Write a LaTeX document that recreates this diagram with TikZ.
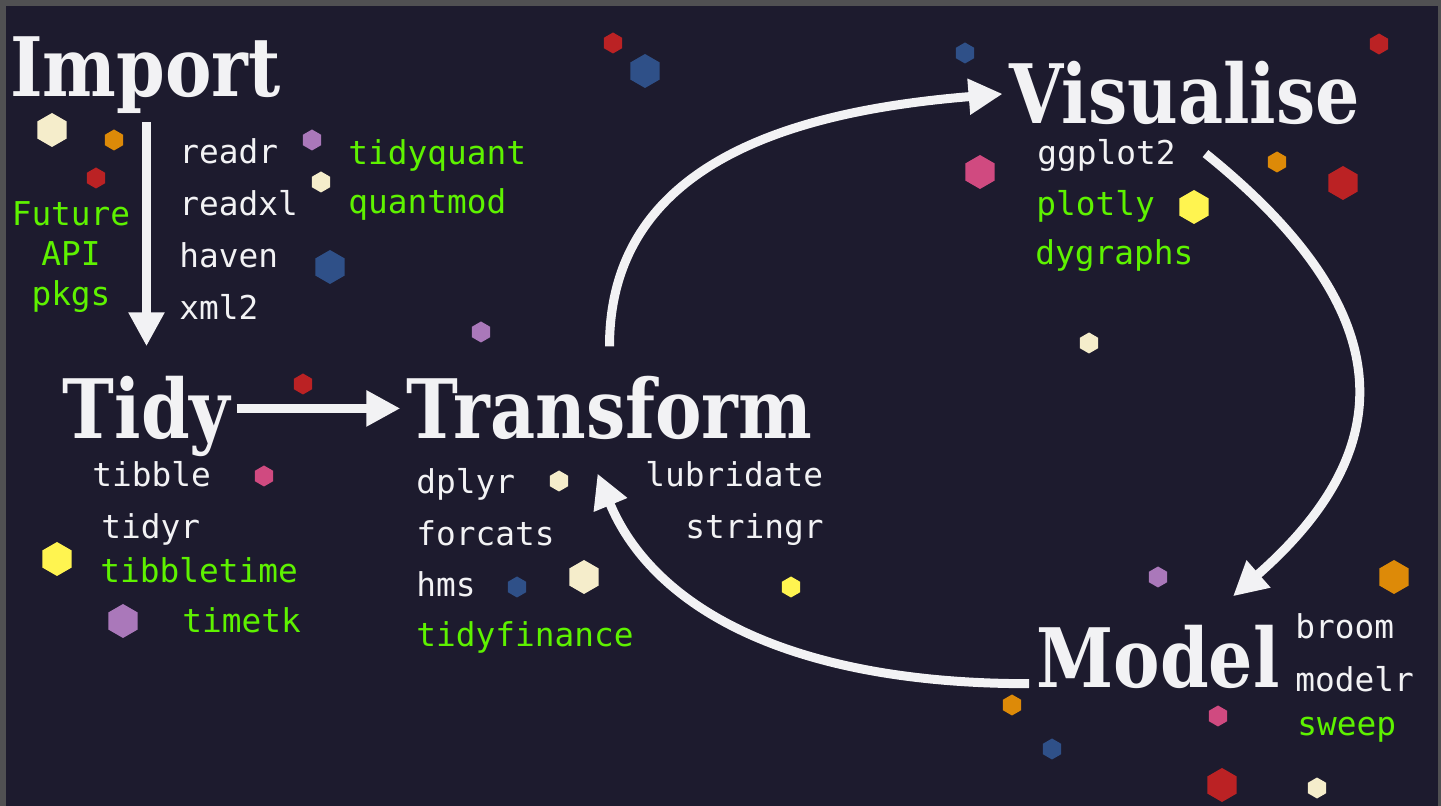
\documentclass[tikz,border=0pt]{standalone}
\usepackage{fontspec}
\usetikzlibrary{arrows.meta,calc,positioning}
\newfontfamily\stagefamily[FakeStretch=0.85]{DejaVu Serif}
\newfontfamily\pkgfamily{DejaVu Sans Mono}
\definecolor{bgdark}{RGB}{29,27,46}
\definecolor{framegray}{RGB}{80,80,82}
\definecolor{txtwhite}{RGB}{242,242,244}
\definecolor{pkggreen}{RGB}{94,242,0}
\definecolor{hcream}{RGB}{245,237,203}
\definecolor{horange}{RGB}{221,138,8}
\definecolor{hred}{RGB}{187,34,36}
\definecolor{hpurple}{RGB}{170,120,186}
\definecolor{hblue}{RGB}{47,80,136}
\definecolor{hpink}{RGB}{208,74,128}
\definecolor{hyellow}{RGB}{255,244,80}
% hexagon: x, y, radius, colour
\newcommand{\hexa}[4]{\fill[#4] (#1,#2) +(90:#3) -- +(150:#3) -- +(210:#3) -- +(270:#3) -- +(330:#3) -- +(30:#3) -- cycle;}

\begin{document}
\begin{tikzpicture}[
        x=0.5pt, y=-0.5pt, % one unit = one pixel of the picture
        stage/.style={font=\stagefamily\bfseries\fontsize{41}{41}\selectfont, text=txtwhite, inner sep=0pt, anchor=base},
        pkg/.style={font=\pkgfamily\fontsize{16.4}{20}\selectfont, text=txtwhite, inner sep=0pt, anchor=base west},
        ext/.style={pkg, text=pkggreen}, % extra packages
        flow/.style={draw=txtwhite, line width=4.5pt, -{Triangle[length=17pt,width=17pt]}},
    ]

    \useasboundingbox (0,0) rectangle (1441,806);
    \fill[framegray] (0,0) rectangle (1441,806);
    \fill[bgdark] (6,6) rectangle (1438,806);

    % hexagons
    \hexa{52}{130}{17}{hcream}
    \hexa{114}{140}{10.5}{horange}
    \hexa{96}{178}{10.5}{hred}
    \hexa{312}{140}{10.5}{hpurple}
    \hexa{321}{182}{10.5}{hcream}
    \hexa{330}{267}{17}{hblue}
    \hexa{481}{332}{10.5}{hpurple}
    \hexa{613}{43}{10.5}{hred}
    \hexa{645}{71}{17}{hblue}
    \hexa{303}{384}{10.5}{hred}
    \hexa{264}{476}{10.5}{hpink}
    \hexa{559}{481}{10.5}{hcream}
    \hexa{57}{559}{17}{hyellow}
    \hexa{123}{621}{17}{hpurple}
    \hexa{517}{587}{10.5}{hblue}
    \hexa{584}{577}{17}{hcream}
    \hexa{791}{587}{10.5}{hyellow}
    \hexa{965}{53}{10.5}{hblue}
    \hexa{1379}{44}{10.5}{hred}
    \hexa{980}{172}{17}{hpink}
    \hexa{1277}{162}{10.5}{horange}
    \hexa{1343}{183}{17}{hred}
    \hexa{1194}{207}{17}{hyellow}
    \hexa{1089}{343}{10.5}{hcream}
    \hexa{1158}{577}{10.5}{hpurple}
    \hexa{1394}{577}{17}{horange}
    \hexa{1012}{705}{10.5}{horange}
    \hexa{1052}{749}{10.5}{hblue}
    \hexa{1218}{716}{10.5}{hpink}
    \hexa{1222}{785}{17}{hred}
    \hexa{1317}{788}{10.5}{hcream}

    % stages
    \node[stage] (imp) at (145.5,97) {Import};
    \node[stage] (tidy) at (146.5,439) {Tidy};
    \node[stage] (trans) at (609.5,439) {Transform};
    \node[stage] (vis) at (1184.5,124) {Visualise};
    \node[stage] (model) at (1158,688) {Model};

    % packages
    \node[pkg] (readr) at (179,164) {readr};
    \node[pkg] (readxl) at (179,216) {readxl};
    \node[pkg] (haven) at (179,268) {haven};
    \node[pkg] (xmltwo) at (179,320) {xml2};
    \node[ext] (tidyquant) at (348,165) {tidyquant};
    \node[ext] (quantmod) at (348,214) {quantmod};
    \node[ext, anchor=base] (future) at (71,226) {Future};
    \node[ext, anchor=base] (api) at (71,266) {API};
    \node[ext, anchor=base] (pkgs) at (71,306) {pkgs};

    \node[pkg] (tibble) at (92,487) {tibble};
    \node[pkg] (tidyr) at (101,539) {tidyr};
    \node[ext] (tibbletime) at (100,583) {tibbletime};
    \node[ext] (timetk) at (182,633) {timetk};

    \node[pkg] (dplyr) at (416,494) {dplyr};
    \node[pkg] (forcats) at (416,546) {forcats};
    \node[pkg] (hms) at (416,597) {hms};
    \node[ext] (tidyfinance) at (416,647) {tidyfinance};
    \node[pkg] (lubridate) at (645,487) {lubridate};
    \node[pkg] (stringr) at (685,539) {stringr};

    \node[pkg] (ggplot) at (1037,165) {ggplot2};
    \node[ext] (plotly) at (1036,216) {plotly};
    \node[ext] (dygraphs) at (1035,265) {dygraphs};

    \node[pkg] (broom) at (1295,639) {broom};
    \node[pkg] (modelr) at (1295,692) {modelr};
    \node[ext] (sweep) at (1297,736) {sweep};

    % cycle
    \draw[flow, shorten <=4pt, shorten >=15pt] (tidy.north |- imp.south) -- (tidy.north);
    \draw[flow, shorten <=3pt, shorten >=3pt] (tidy.east |- trans.west) -- (trans.west);
    \draw[flow, shorten <=15pt, shorten >=3pt] (trans.north) .. controls +(0,-217) and +(-208,17) .. (vis.west);
    \draw[flow] ($(vis.south)+(21,28)$) .. controls +(185,149) and +(178,-156) .. ($(model.north)+(75,-29)$);
    \draw[flow, shorten <=3.5pt] (model.mid west) .. controls +(-257,0) and +(53,128) .. ($(trans.south)+(-12,33)$);
\end{tikzpicture}
\end{document}
